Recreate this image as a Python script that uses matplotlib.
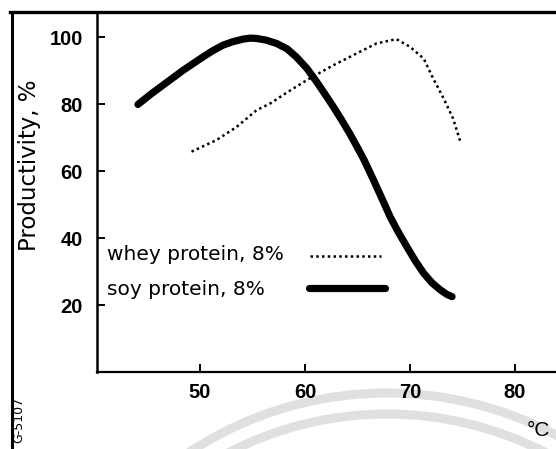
import numpy as np
import matplotlib
matplotlib.use("Agg")
import matplotlib.pyplot as plt
from matplotlib.lines import Line2D
from matplotlib.patches import Arc

# Productivity vs temperature for two protein solutions
soy_temp = [44.1, 45.3, 46.5, 47.5, 48.4, 49.4, 50.3, 51.2, 52.2, 53.1, 54.1,
            54.8, 55.4, 56.3, 57.3, 58.3, 59.2, 60.2, 61.1, 61.9, 62.7, 63.5,
            64.3, 65.0, 65.6, 66.5, 67.3, 68.1, 68.9, 69.7, 70.5, 71.3, 72.1,
            72.9, 73.5, 74.0]
soy_prod = [79.9, 82.9, 85.7, 88.0, 90.1, 92.2, 94.1, 95.9, 97.6, 98.6, 99.4,
            99.7, 99.6, 99.1, 98.1, 96.5, 94.0, 90.6, 86.7, 83.0, 79.2, 75.2,
            71.0, 67.0, 63.5, 57.5, 52.0, 46.4, 41.7, 37.4, 33.2, 29.5, 26.6,
            24.5, 23.2, 22.5]

whey_temp = [49.2, 51.6, 53.5, 55.4, 56.7, 58.3, 60.3, 62.7, 64.9, 66.8, 68.7,
             70.0, 71.3, 72.2, 73.2, 74.1, 74.8]
whey_prod = [65.8, 69.3, 73.2, 78.2, 80.2, 83.5, 87.4, 91.6, 95.1, 98.1, 99.4,
             97.1, 93.6, 87.7, 81.7, 75.7, 68.7]

x_ticks = [50, 60, 70, 80]
y_ticks = [20, 40, 60, 80, 100]
labels = ["whey protein, 8%", "soy protein, 8%"]

W, H = 556, 449
fig = plt.figure(figsize=(W / 100, H / 100), dpi=100)

# faint watermark arcs behind everything
bg = fig.add_axes([0, 0, 1, 1], zorder=-5)
bg.set_xlim(0, W)
bg.set_ylim(0, H)
bg.axis("off")
bg.add_patch(Arc((387, -304), 720, 720, theta1=35, theta2=145,
                 color="#e0e0e0", lw=6.5))
bg.add_patch(Arc((387, -310), 690, 690, theta1=35, theta2=145,
                 color="#e0e0e0", lw=6.5))

ax = fig.add_axes([97 / W, 1 - 372 / H, (W - 97) / W, (372 - 12) / H])
ax.set_facecolor("none")

ax.plot(soy_temp, soy_prod, color="black", lw=5.2, solid_capstyle="round",
        solid_joinstyle="round")
ax.plot(whey_temp, whey_prod, color="black", lw=1.8,
        linestyle=(0, (1.0, 1.3)), dash_capstyle="butt")

ax.set_xlim(40.2, 83.9)
ax.set_ylim(0, 107.5)
ax.set_xticks(x_ticks)
ax.set_yticks(y_ticks)
for s in ["top", "right"]:
    ax.spines[s].set_visible(False)
ax.spines["left"].set_linewidth(1.8)
ax.spines["bottom"].set_linewidth(1.6)
ax.tick_params(axis="both", direction="in", length=6, width=1.4)
ax.tick_params(axis="y", pad=10)
ax.tick_params(axis="x", pad=8)
for lab in ax.get_xticklabels() + ax.get_yticklabels():
    lab.set_fontfamily("Liberation Sans")
    lab.set_fontweight("bold")
    lab.set_fontsize(14.5)

# legend written inside the plot area
ax.text(0.022, 0.325, labels[0], transform=ax.transAxes, fontsize=14.5,
        family="DejaVu Sans", va="center", ha="left")
ax.text(0.022, 0.228, labels[1], transform=ax.transAxes, fontsize=14.5,
        family="DejaVu Sans", va="center", ha="left")
ax.add_line(Line2D([0.465, 0.618], [0.322, 0.322], transform=ax.transAxes,
                   color="black", lw=1.8, linestyle=(0, (1.0, 1.3))))
ax.add_line(Line2D([0.462, 0.627], [0.233, 0.233], transform=ax.transAxes,
                   color="black", lw=5.2, solid_capstyle="round"))

fig.text(30 / W, 1 - 165 / H, "Productivity, %", rotation=90, ha="center",
         va="center", fontsize=16.5, family="DejaVu Sans")
fig.text(538 / W, 1 - 430 / H, "°C", ha="center", va="center", fontsize=15,
         family="Liberation Sans")
fig.text(19 / W, 1 - 420 / H, "G-5107", rotation=90, ha="center", va="center",
         fontsize=9, family="DejaVu Sans")

# outer frame lines
fig.add_artist(Line2D([10 / W, 1], [1 - 12 / H, 1 - 12 / H],
                      transform=fig.transFigure, color="black", lw=2.4))
fig.add_artist(Line2D([12 / W, 12 / W], [0, 1 - 12 / H],
                      transform=fig.transFigure, color="black", lw=2.2))

fig.savefig("out.png", dpi=100)
